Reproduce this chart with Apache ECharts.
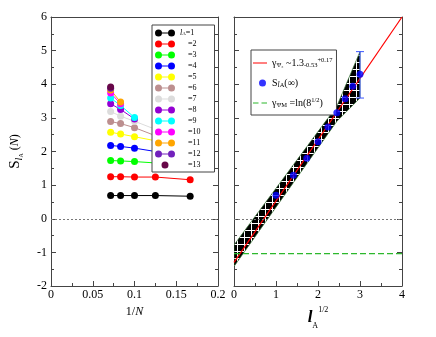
<!DOCTYPE html>
<html>
<head>
<meta charset="utf-8">
<script src="https://cdn.jsdelivr.net/npm/echarts@6/dist/echarts.min.js"></script>
<style>
  html, body { margin: 0; padding: 0; background: #fff; }
  #chart { width: 436px; height: 337px; }
</style>
</head>
<body>
<div id="chart"></div>
<script>
// 1/N for N = 14, 12, 10, 8, 6
const invN = [1 / 14, 1 / 12, 1 / 10, 1 / 8, 1 / 6]

// S_lA(N) for l_A = 1..13, in the order of invN
const sL1 = [0.69, 0.69, 0.69, 0.69, 0.67]
const sL2 = [1.25, 1.25, 1.24, 1.24, 1.16]
const sL3 = [1.73, 1.72, 1.70, 1.66, 1.50]
const sL4 = [2.18, 2.15, 2.10, 2.00, 1.76]
const sL5 = [2.57, 2.52, 2.44, 2.32, 2.05]
const sL6 = [2.89, 2.83, 2.71, 2.47]
const sL7 = [3.19, 3.05, 2.90, 2.66]
const sL8 = [3.42, 3.25, 2.97]
const sL9 = [3.59, 3.37, 3.01]
const sL10 = [3.74, 3.42]
const sL11 = [3.83, 3.47]
const sL12 = [3.88]
const sL13 = [3.92]
const sLeft = [sL1, sL2, sL3, sL4, sL5, sL6, sL7, sL8, sL9, sL10, sL11, sL12, sL13]

// grace-style colours, one per l_A
const lColors = ['#000000', '#ff0000', '#00ff00', '#0000ff', '#ffff00', '#bc8f8f', '#dcdcdc',
  '#9400d3', '#00ffff', '#ff00ff', '#ffa500', '#7221bc', '#670748']

// right panel: S_lA(inf) against l_A^(1/2)
const sqrtL = [1, 1.414, 1.732, 2, 2.236, 2.449, 2.646, 2.828, 3]
const sInf = [0.70, 1.29, 1.80, 2.29, 2.73, 3.15, 3.57, 3.94, 4.30]
const errBar = [[3, 3.59, 4.97]]

// fit line and its uncertainty band
const fitLine = [[0, -1.3], [4, 6.0]]
const bandX = [0, 2.45, 3]
const bandUpper = [-0.78, 3.35, 4.97]
const bandLower = [-1.42, 2.90, 3.59]
const psiM = [[0, -1.04], [4, -1.04]]

const FONT = '"Liberation Serif", "DejaVu Serif", serif'
const AX = '#444'

const chart = echarts.init(document.getElementById('chart'))

// black fill with a white square grid
function hatch() {
  const c = document.createElement('canvas')
  c.width = 7
  c.height = 7
  const g = c.getContext('2d')
  g.fillStyle = '#000'
  g.fillRect(0, 0, 7, 7)
  g.fillStyle = '#fff'
  g.fillRect(6, 0, 1, 7)
  g.fillRect(0, 6, 7, 1)
  return c
}
const hatchImg = hatch()

// legend icons: two dots joined by a line, or one dot
const pairIcon = 'path://M0,3.5A3.5,3.5 0 1 1 7,3.5A3.5,3.5 0 1 1 0,3.5Z M13,3.5A3.5,3.5 0 1 1 20,3.5A3.5,3.5 0 1 1 13,3.5Z M3.5,3L16.5,3L16.5,4L3.5,4Z'
const oneIcon = 'path://M0,3.5L20,3.5M6.5,3.5A3.5,3.5 0 1 1 13.5,3.5A3.5,3.5 0 1 1 6.5,3.5Z'
const dotIcon = 'path://M0,0L14,10M6,5A3.5,3.5 0 1 1 13,5A3.5,3.5 0 1 1 6,5Z'
const lineIcon = 'path://M0,0L14,10M0,4.4L14,4.4L14,5.6L0,5.6Z'
const dashIcon = 'path://M0,0L14,10M0,4.4L5.5,4.4L5.5,5.6L0,5.6Z M8.5,4.4L14,4.4L14,5.6L8.5,5.6Z'

const lNames = sLeft.map((_, i) => 'l' + (i + 1))

const axisBase = (gridIndex) => ({
  gridIndex,
  type: 'value',
  axisLine: { show: true, onZero: false, lineStyle: { color: AX, width: 1 } },
  axisTick: { show: true, inside: true, length: 5, lineStyle: { color: AX } },
  minorTick: { show: true, splitNumber: 2, length: 3, lineStyle: { color: AX } },
  splitLine: { show: false },
  axisLabel: { show: false }
})

const labelStyle = { show: true, color: '#000', fontFamily: FONT, fontSize: 12 }

const leftSeries = sLeft.map((vals, i) => ({
  name: lNames[i],
  type: 'line',
  xAxisIndex: 0,
  yAxisIndex: 0,
  data: vals.map((v, k) => [invN[k], v]),
  symbol: 'circle',
  symbolSize: 7,
  color: lColors[i],
  lineStyle: { width: 1, color: lColors[i] },
  markLine: i === 0 ? {
    silent: true, symbol: 'none', label: { show: false },
    lineStyle: { color: '#777', type: [2, 2], width: 1 },
    data: [{ yAxis: 0 }]
  } : undefined
}))

const option = {
  animation: false,
  grid: [
    { left: 51, top: 17, width: 167, height: 269 },
    { left: 234, top: 17, width: 168, height: 269 }
  ],
  xAxis: [
    Object.assign(axisBase(0), {
      min: 0, max: 0.2, interval: 0.05, position: 'bottom',
      axisLabel: Object.assign({}, labelStyle, { margin: 3 }),
      name: '{a|1/}{b|N}', nameLocation: 'middle', nameGap: 11,
      nameTextStyle: {
        rich: {
          a: { fontFamily: FONT, fontSize: 12, color: '#000' },
          b: { fontFamily: FONT, fontSize: 12, fontStyle: 'italic', color: '#000' }
        }
      }
    }),
    Object.assign(axisBase(0), { min: 0, max: 0.2, position: 'top', axisTick: { show: false }, minorTick: { show: false } }),
    Object.assign(axisBase(1), {
      min: 0, max: 4, interval: 1, position: 'bottom',
      axisLabel: Object.assign({}, labelStyle, { margin: 3 }),
      name: '{l|l}{a|A}{h|1/2}', nameLocation: 'middle', nameGap: 17,
      nameTextStyle: {
        rich: {
          l: { fontFamily: FONT, fontSize: 17, fontStyle: 'italic', fontWeight: 'bold', color: '#000', lineHeight: 24 },
          a: { fontFamily: FONT, fontSize: 8, color: '#000', verticalAlign: 'bottom', lineHeight: 8 },
          h: { fontFamily: FONT, fontSize: 8, color: '#000', verticalAlign: 'top', lineHeight: 8 }
        }
      }
    }),
    Object.assign(axisBase(1), { min: 0, max: 4, position: 'top', axisTick: { show: false }, minorTick: { show: false } })
  ],
  yAxis: [
    Object.assign(axisBase(0), {
      min: -2, max: 6, interval: 1, position: 'left',
      axisLabel: Object.assign({}, labelStyle, { margin: 4 }),
      name: '{s|S}{l|l}{a|A}{t| (}{n|N}{t|)}', nameLocation: 'middle', nameGap: 27, nameRotate: 90,
      nameTextStyle: {
        rich: {
          s: { fontFamily: FONT, fontSize: 15, color: '#000', lineHeight: 18 },
          l: { fontFamily: FONT, fontSize: 10, fontStyle: 'italic', color: '#000', verticalAlign: 'bottom', lineHeight: 10 },
          a: { fontFamily: FONT, fontSize: 6, color: '#000', verticalAlign: 'bottom', lineHeight: 4 },
          t: { fontFamily: FONT, fontSize: 12, color: '#000' },
          n: { fontFamily: FONT, fontSize: 12, fontStyle: 'italic', color: '#000' }
        }
      }
    }),
    Object.assign(axisBase(0), { min: -2, max: 6, interval: 1, position: 'right' }),
    Object.assign(axisBase(1), { min: -2, max: 6, interval: 1, position: 'left' }),
    Object.assign(axisBase(1), { min: -2, max: 6, interval: 1, position: 'right' })
  ],
  legend: [
    {
      orient: 'vertical', left: 152, top: 25,
      data: lNames.map((n, i) => ({ name: n, icon: i === 12 ? oneIcon : pairIcon })),
      itemWidth: 20, itemHeight: 7, itemGap: 3,
      padding: [4, 14, 3, 3],
      backgroundColor: '#fff', borderColor: AX, borderWidth: 1,
      selectedMode: false,
      itemStyle: { borderWidth: 0 },
      textStyle: {
        fontFamily: FONT, fontSize: 8, color: '#000', lineHeight: 7,
        rich: {
          i: { fontFamily: FONT, fontSize: 8, fontStyle: 'italic', color: '#000' },
          s: { fontFamily: FONT, fontSize: 5, color: '#000', verticalAlign: 'bottom', lineHeight: 5 },
          p: { width: 8 }
        }
      },
      formatter: (name) => {
        const n = name.slice(1)
        return n === '1' ? '{i|l}{s|A}=1' : '{p| }=' + n
      }
    },
    {
      orient: 'vertical', left: 251, top: 50,
      data: [
        { name: 'fit', icon: lineIcon },
        { name: 'sinf', icon: dotIcon },
        { name: 'psiM', icon: dashIcon }
      ],
      itemWidth: 14, itemHeight: 10, itemGap: 8,
      padding: [7, 4, 6, 2],
      backgroundColor: '#fff', borderColor: AX, borderWidth: 1,
      selectedMode: false,
      itemStyle: { borderWidth: 0 },
      lineStyle: { width: 0 },
      textStyle: {
        fontFamily: FONT, fontSize: 10, color: '#000', lineHeight: 12,
        rich: {
          t: { fontFamily: FONT, fontSize: 10, color: '#000' },
          b: { fontFamily: FONT, fontSize: 6.5, color: '#000', verticalAlign: 'bottom', lineHeight: 6 },
          u: { fontFamily: FONT, fontSize: 6.5, color: '#000', verticalAlign: 'top', lineHeight: 6 },
          i: { fontFamily: FONT, fontSize: 7.5, fontStyle: 'italic', color: '#000', verticalAlign: 'bottom', lineHeight: 7 }
        }
      },
      formatter: (name) => {
        if (name === 'fit') return '{t|γ}{b|Ψ₂}{t| ~1.3}{b|-0.53}{u|+0.17}'
        if (name === 'sinf') return '{t|S}{i|l}{b|A}{t|(∞)}'
        return '{t|γ}{b|ΨM}{t| =ln(8}{u|1/2}{t|)}'
      }
    }
  ],
  series: leftSeries.concat([
    {
      name: 'band',
      type: 'custom',
      xAxisIndex: 2,
      yAxisIndex: 2,
      data: [[0, 0]],
      encode: { x: 0, y: 1 },
      clip: true,
      silent: true,
      z: 1,
      renderItem: (params, api) => {
        const pts = []
        bandX.forEach((x, i) => pts.push(api.coord([x, bandUpper[i]])))
        for (let i = bandX.length - 1; i >= 0; i--) pts.push(api.coord([bandX[i], bandLower[i]]))
        return {
          type: 'polygon',
          shape: { points: pts },
          style: { fill: { image: hatchImg, repeat: 'repeat' }, stroke: '#2e6b2e', lineWidth: 0.7 }
        }
      }
    },
    {
      name: 'fit',
      type: 'line',
      xAxisIndex: 2,
      yAxisIndex: 2,
      data: fitLine,
      symbol: 'none',
      color: '#ff0000',
      lineStyle: { color: '#ff0000', width: 1.2 },
      z: 3,
      markLine: {
        silent: true, symbol: 'none', label: { show: false },
        lineStyle: { color: '#777', type: [2, 2], width: 1 },
        data: [{ yAxis: 0 }]
      }
    },
    {
      name: 'psiM',
      type: 'line',
      xAxisIndex: 2,
      yAxisIndex: 2,
      data: psiM,
      symbol: 'none',
      color: '#2db82d',
      lineStyle: { color: '#2db82d', width: 1.3, type: [6, 3] },
      z: 3
    },
    {
      name: 'err',
      type: 'custom',
      xAxisIndex: 2,
      yAxisIndex: 2,
      data: errBar,
      encode: { x: 0, y: [1, 2] },
      z: 4,
      renderItem: (params, api) => {
        const x = api.value(0)
        const lo = api.coord([x, api.value(1)])
        const hi = api.coord([x, api.value(2)])
        const s = { stroke: '#3a55ff', lineWidth: 1 }
        return {
          type: 'group',
          children: [
            { type: 'line', shape: { x1: lo[0], y1: lo[1], x2: hi[0], y2: hi[1] }, style: s },
            { type: 'line', shape: { x1: lo[0] - 4, y1: lo[1], x2: lo[0] + 4, y2: lo[1] }, style: s },
            { type: 'line', shape: { x1: hi[0] - 4, y1: hi[1], x2: hi[0] + 4, y2: hi[1] }, style: s }
          ]
        }
      }
    },
    {
      name: 'sinf',
      type: 'scatter',
      xAxisIndex: 2,
      yAxisIndex: 2,
      data: sqrtL.map((x, i) => [x, sInf[i]]),
      symbolSize: 7,
      color: '#0000ff',
      z: 5
    }
  ])
}

chart.setOption(option)
</script>
</body>
</html>
